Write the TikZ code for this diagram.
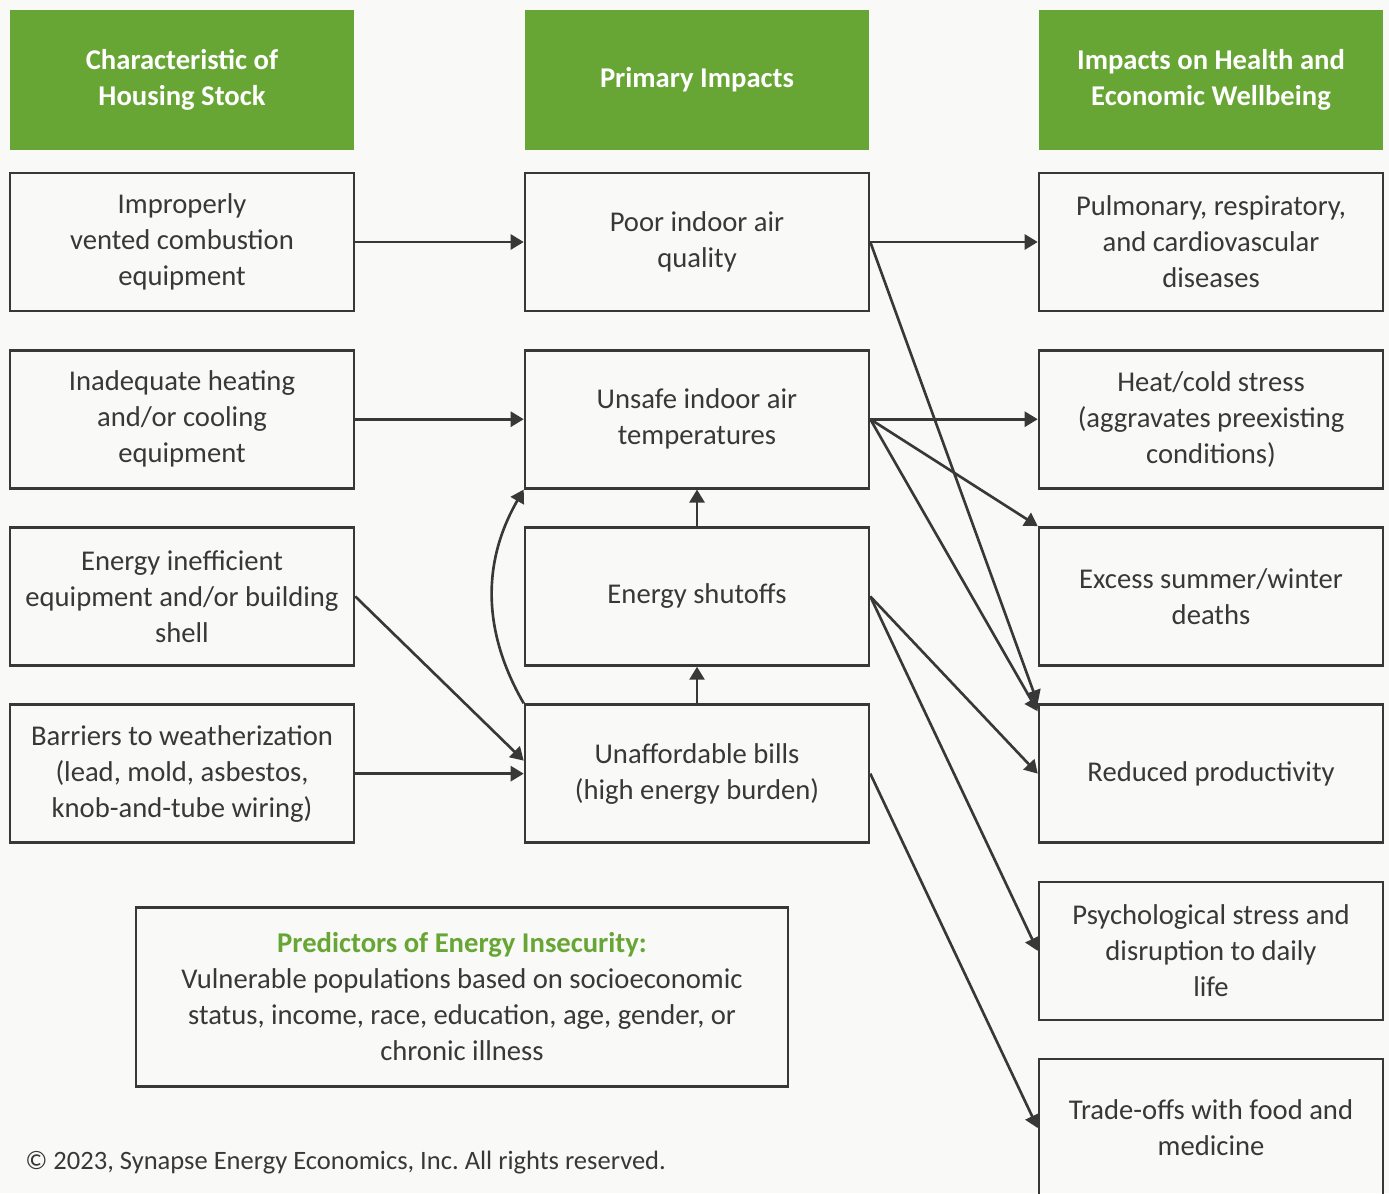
\documentclass[tikz,border=0pt]{standalone}
\usepackage{fontspec}
\setmainfont{Carlito}
\usetikzlibrary{arrows.meta,positioning}
\definecolor{synGreen}{HTML}{67A534}
\definecolor{synGray}{HTML}{383838}
\definecolor{synPaper}{HTML}{F9F9F7}
\frenchspacing

\begin{document}
\begin{tikzpicture}[x=0.02cm,y=-0.02cm,node distance=3.545cm,
        head node/.style={fill=synGreen,text=white,font=\bfseries\fontsize{16.3}{20.5}\selectfont,
            minimum width=6.88cm,minimum height=2.8cm,align=center,inner sep=0pt},
        box node/.style={draw=synGray,line width=1.5pt,text=synGray,font=\fontsize{16.3}{20.5}\selectfont,
            minimum width=6.88cm,minimum height=2.76cm,align=center,inner sep=0pt},
        link/.style={draw=synGray,line width=1.5pt,-{Triangle[length=0.26cm,width=0.3cm]}}]

        \fill[synPaper] (0,0) rectangle (1389,1193);
        \useasboundingbox (0,0) rectangle (1389,1193);

        \node[head node] (h1) at (182,80)  {Characteristic of\\Housing Stock};
        \node[head node] (h2) at (697,80)  {Primary Impacts};
        \node[head node] (h3) at (1211,80) {Impacts on Health and\\Economic Wellbeing};

        \node[box node] (1) at (182,242)  {Improperly\\vented combustion\\equipment};
        \node[box node] (2) [below of=1]  {Inadequate heating\\and/or cooling\\equipment};
        \node[box node] (3) [below of=2]  {Energy inefficient\\equipment and/or building\\shell};
        \node[box node] (4) [below of=3]  {Barriers to weatherization\\(lead, mold, asbestos,\\knob-and-tube wiring)};

        \node[box node] (5) at (697,242)  {Poor indoor air\\quality};
        \node[box node] (6) [below of=5]  {Unsafe indoor air\\temperatures};
        \node[box node] (7) [below of=6]  {Energy shutoffs};
        \node[box node] (8) [below of=7]  {Unaffordable bills\\(high energy burden)};

        \node[box node] (9)  at (1211,242) {Pulmonary, respiratory,\\and cardiovascular\\diseases};
        \node[box node] (10) [below of=9]  {Heat/cold stress\\(aggravates preexisting\\conditions)};
        \node[box node] (11) [below of=10] {Excess summer/winter\\deaths};
        \node[box node] (12) [below of=11] {Reduced productivity};
        \node[box node] (13) [below of=12] {Psychological stress and\\disruption to daily\\life};
        \node[box node] (14) [below of=13] {Trade-offs with food and\\medicine};

        \node[box node,minimum width=13.04cm,minimum height=3.58cm] (15) at (462,997)
            {\textcolor{synGreen}{\bfseries Predictors of Energy Insecurity:}\\
             Vulnerable populations based on socioeconomic\\
             status, income, race, education, age, gender, or\\
             chronic illness};

        \node[anchor=west,inner sep=0pt,text=synGray,font=\fontsize{15.1}{19}\selectfont] (16) at (25,1163)
            {© 2023, Synapse Energy Economics, Inc. All rights reserved.};

        \path
            (1) edge [link] (5)
            (2) edge [link] (6)
            (3.east) edge [link] ([yshift=0.26cm]8.west)
            (4) edge [link] (8)
            (8) edge [link] (7)
            (7) edge [link] (6)
            (8.north west) edge [link,bend left=30] (6.south west);
        \path
            (5) edge [link] (9)
            (5.east) edge [link] (12.north west)
            (6) edge [link] (10)
            (6.east) edge [link] (11.north west)
            (6.east) edge [link] ([yshift=-0.16cm]12.north west)
            (7.east) edge [link] (12.west)
            (7.east) edge [link] (13.west)
            (8.east) edge [link] (14.west);
    \end{tikzpicture}
\end{document}
